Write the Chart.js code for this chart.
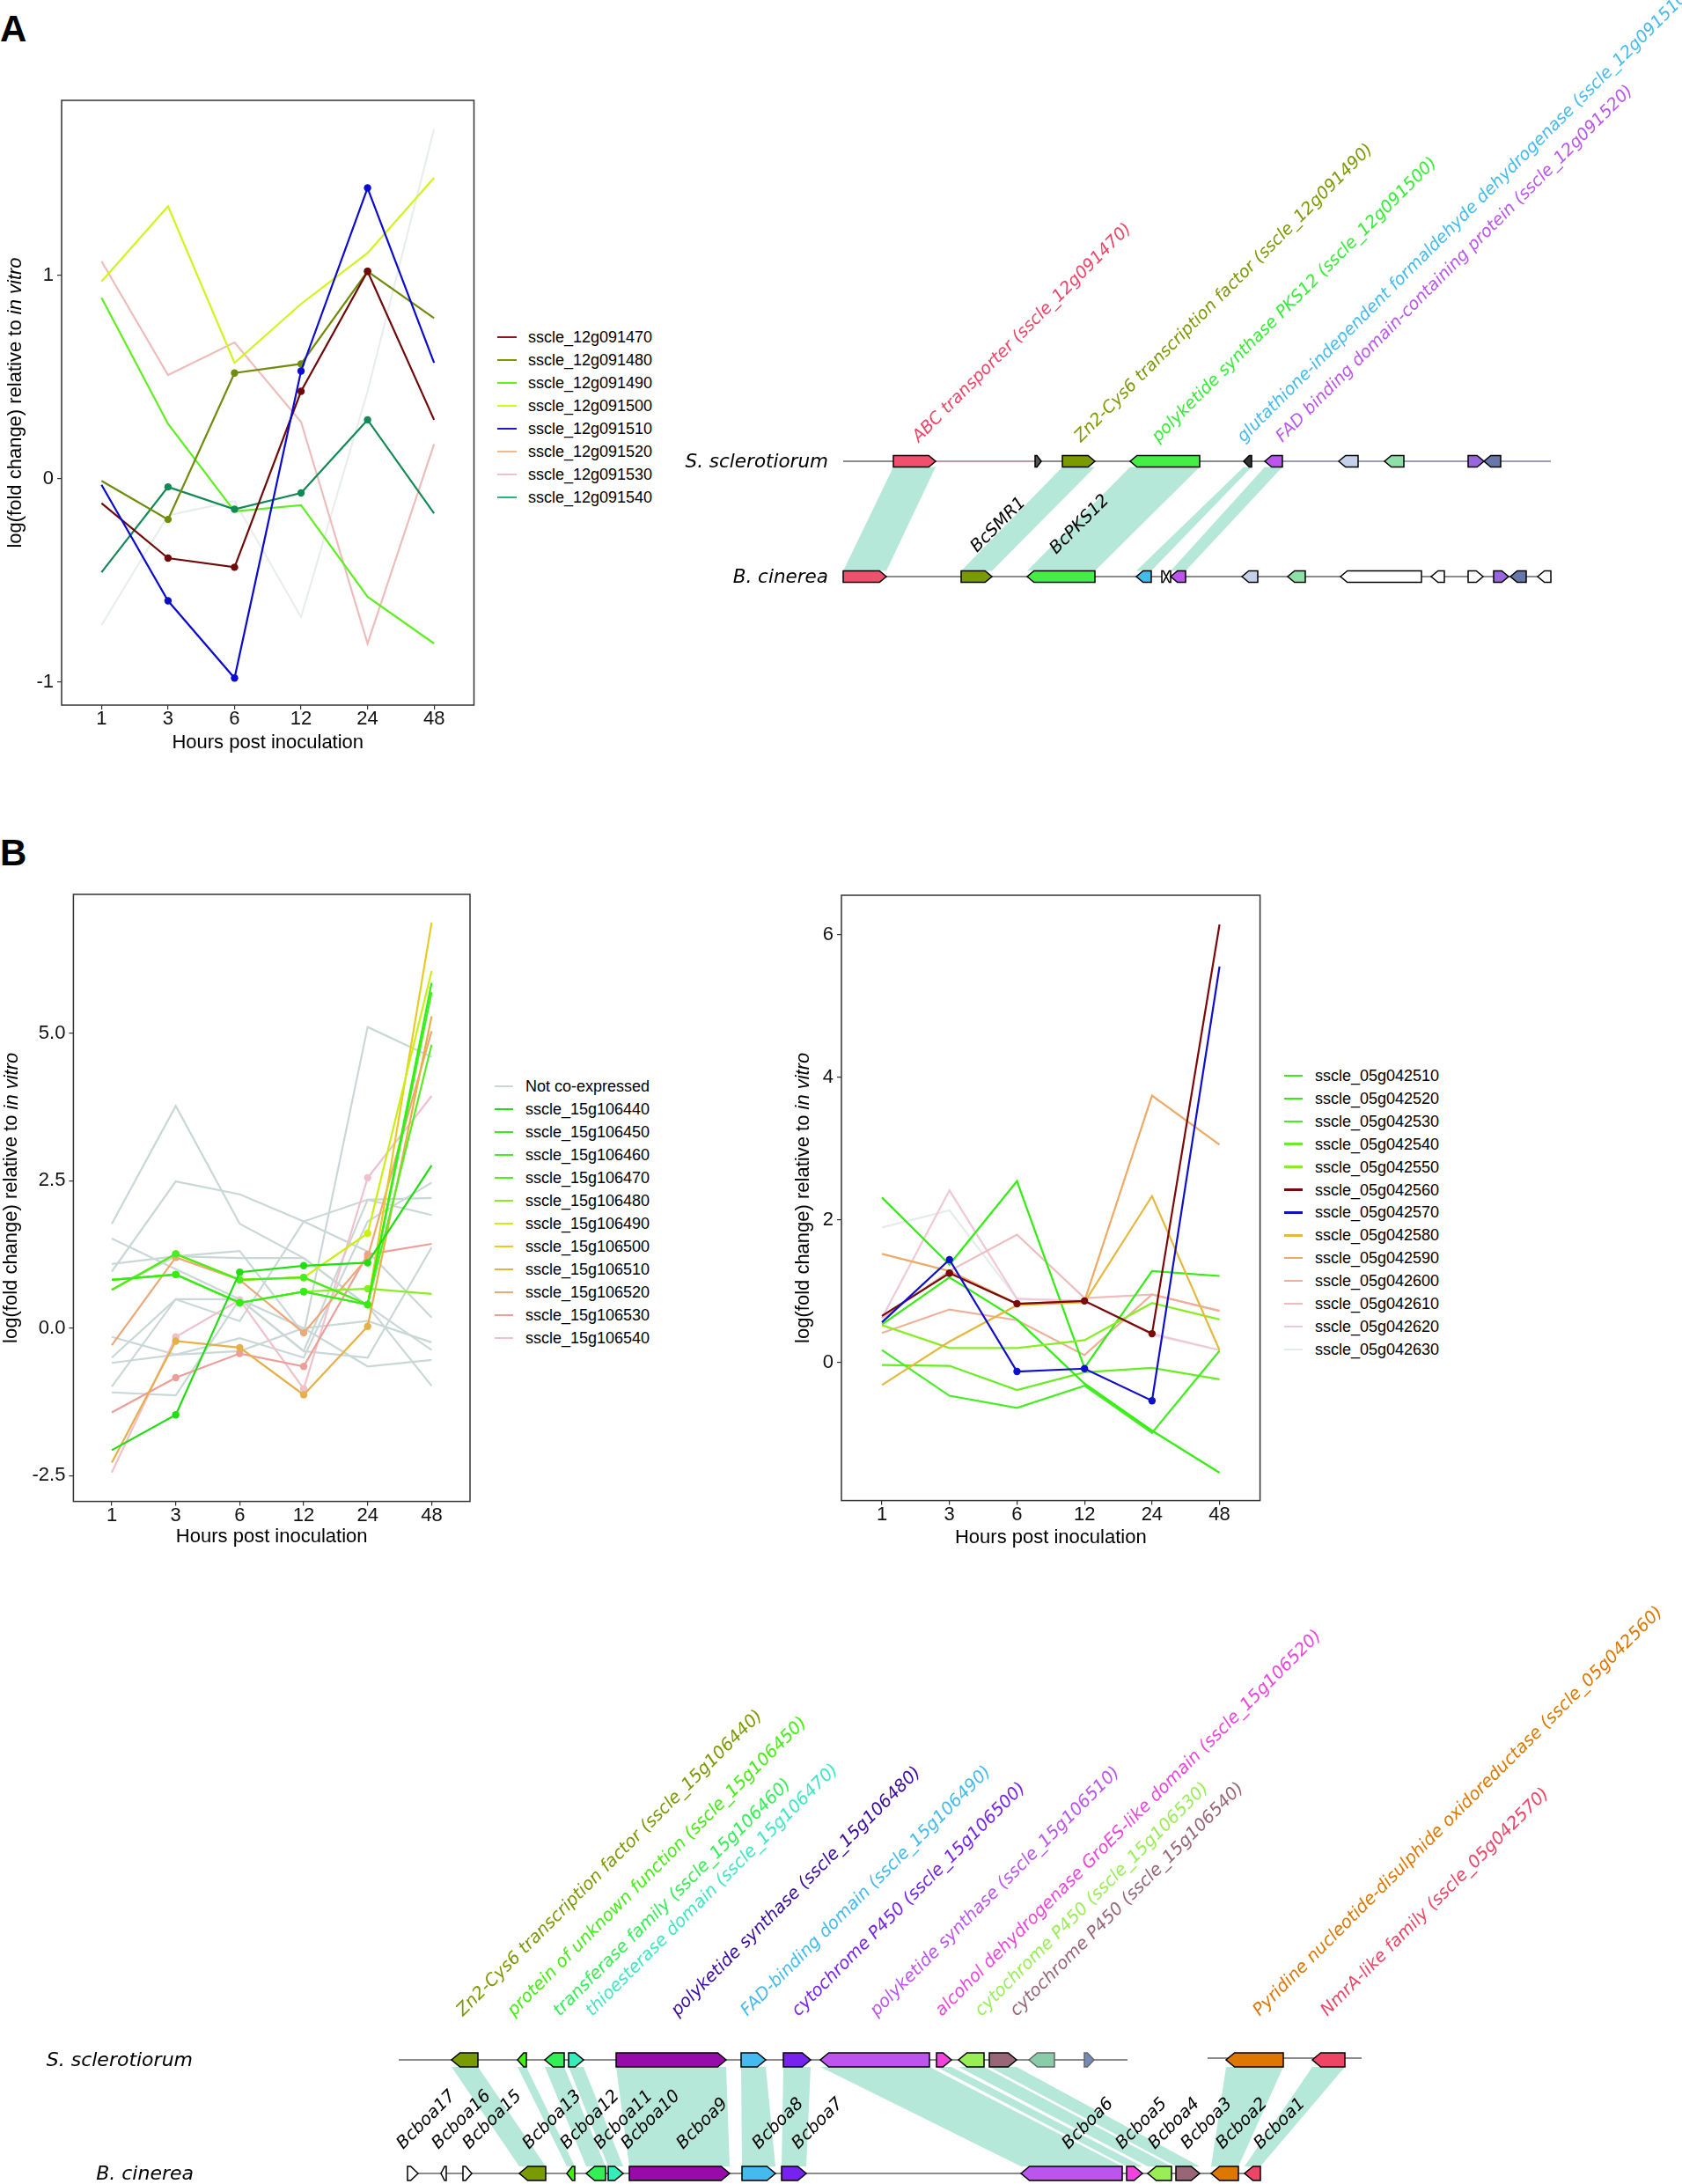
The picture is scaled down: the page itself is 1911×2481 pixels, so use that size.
<!DOCTYPE html>
<html><head><meta charset="utf-8">
<script src="https://cdn.jsdelivr.net/npm/chart.js@4.4.0/dist/chart.umd.min.js"></script>
<style>
html,body{margin:0;padding:0;background:#fff;}
body{width:1911px;height:2481px;position:relative;overflow:hidden;font-family:'Liberation Sans',Arial,sans-serif;}
.box{position:absolute;}
.box canvas{display:block;}
.panel{position:absolute;font-weight:bold;font-size:42px;line-height:42px;color:#000;}
</style></head><body>
<div class="panel" style="left:0px;top:12px;">A</div>
<div class="panel" style="left:0px;top:948px;">B</div>
<div class="box" id="boxA" style="left:0px;top:90px;width:560px;height:790px;"><canvas id="cA"></canvas></div>
<div class="box" id="boxB1" style="left:0px;top:990px;width:560px;height:790px;"><canvas id="cB1"></canvas></div>
<div class="box" id="boxB2" style="left:880px;top:990px;width:570px;height:790px;"><canvas id="cB2"></canvas></div>
<div class="box" id="boxGA" style="left:760px;top:0px;width:1151px;height:690px;"><canvas id="cGA"></canvas></div>
<div class="box" id="boxGB" style="left:0px;top:1790px;width:1911px;height:691px;"><canvas id="cGB"></canvas></div>
<div id="legends"></div>
<script>
// ---------------- DATA ----------------
const hours = ['1', '3', '6', '12', '24', '48'];

// Panel A : cluster sscle_12g0914xx
const namesA = ['sscle_12g091470','sscle_12g091480','sscle_12g091490','sscle_12g091500','sscle_12g091510','sscle_12g091520','sscle_12g091530','sscle_12g091540'];
const a470 = [-0.12, -0.39, -0.435, 0.43, 1.02, 0.29];
const a480 = [-0.01, -0.20, 0.52, 0.565, 1.02, 0.79];
const a490 = [0.89, 0.27, -0.16, -0.13, -0.58, -0.81];
const a500 = [0.97, 1.34, 0.57, 0.86, 1.11, 1.48];
const a510 = [-0.03, -0.60, -0.98, 0.53, 1.43, 0.57];
const a520 = [-0.72, -0.18, -0.11, -0.68, 0.43, 1.72];
const a530 = [1.07, 0.51, 0.67, 0.28, -0.81, 0.17];
const a540 = [-0.46, -0.04, -0.15, -0.07, 0.29, -0.17];
const yTicksA = [-1, 0, 1];

// Panel B left : cluster sscle_15g1064xx-1065xx
const namesB1 = ['sscle_15g106440','sscle_15g106450','sscle_15g106460','sscle_15g106470','sscle_15g106480','sscle_15g106490','sscle_15g106500','sscle_15g106510','sscle_15g106520','sscle_15g106530','sscle_15g106540'];
const b440 = [-2.07, -1.47, 0.95, 1.06, 1.11, 2.76];
const b450 = [0.82, 0.91, 0.43, 0.62, 0.40, 5.86];
const b460 = [0.65, 1.26, 0.82, 0.86, 0.40, 5.70];
const b470 = [0.82, 0.91, 0.43, 0.62, 0.40, 4.81];
const b480 = [0.82, 0.91, 0.43, 0.62, 0.67, 0.58];
const b490 = [0.65, 1.26, 0.82, 0.86, 1.61, 6.06];
const b500 = [0.65, 1.26, 0.82, 0.86, 0.40, 6.88];
const b510 = [-2.28, -0.22, -0.33, -1.13, 0.03, 5.29];
const b520 = [-0.29, 1.20, 0.82, -0.08, 1.20, 5.04];
const b530 = [-1.43, -0.84, -0.43, -0.65, 1.25, 1.43];
const b540 = [-2.45, -0.15, 0.48, -1.03, 2.55, 3.94];
// Not co-expressed neighbours
const nc1 = [1.77, 3.77, 1.77, 1.19, 0.38, -0.98];
const nc2 = [0.96, 2.49, 2.27, 1.81, 1.30, 0.18];
const nc3 = [1.52, 1.00, 0.49, -0.39, 2.18, 2.21];
const nc4 = [1.09, 1.22, 1.31, -0.10, 5.11, 4.60];
const nc5 = [0.65, 1.22, 1.19, 1.19, 0.38, -0.37];
const nc6 = [-0.15, -0.45, -0.17, -0.50, 1.81, 2.47];
const nc7 = [-0.50, 0.49, 0.49, 0.00, 0.12, -0.24];
const nc8 = [-0.59, -0.45, -0.39, 0.00, -0.65, -0.54];
const nc9 = [-0.99, 0.49, 0.12, 1.81, 2.18, 1.92];
const nc10 = [-1.09, -1.14, 0.49, -0.39, -0.50, 1.37];
const yTicksB1 = [-2.5, 0, 2.5, 5];

// Panel B right : cluster sscle_05g0425xx-0426xx
const namesB2 = ['sscle_05g042510','sscle_05g042520','sscle_05g042530','sscle_05g042540','sscle_05g042550','sscle_05g042560','sscle_05g042570','sscle_05g042580','sscle_05g042590','sscle_05g042600','sscle_05g042610','sscle_05g042620','sscle_05g042630'];
const c510 = [2.31, 1.37, 2.54, -0.08, 1.28, 1.21];
const c520 = [0.53, 1.19, 0.60, -0.30, -0.96, -1.55];
const c530 = [0.17, -0.47, -0.64, -0.33, -0.99, 0.16];
const c540 = [-0.04, -0.05, -0.39, -0.14, -0.08, -0.24];
const c550 = [0.52, 0.20, 0.20, 0.31, 0.83, 0.60];
const c560 = [0.65, 1.25, 0.82, 0.86, 0.40, 6.14];
const c570 = [0.56, 1.44, -0.13, -0.09, -0.54, 5.55];
const c580 = [-0.32, 0.29, 0.80, 0.84, 2.33, 0.17];
const c590 = [1.52, 1.28, 0.82, 0.86, 3.74, 3.05];
const c600 = [0.41, 0.74, 0.59, 0.10, 0.95, 0.72];
const c610 = [0.62, 1.28, 1.79, 0.90, 0.95, 0.72];
const c620 = [0.62, 2.41, 0.89, 0.86, 0.40, 0.17];
const c630 = [1.89, 2.13, 0.89, 0.86, 0.38, 0.17];
const yTicksB2 = [0, 2, 4, 6];

// Gene cluster, panel A (positions along locus)
const sclA_start = [57, 218, 249, 326, 455, 479, 563, 615, 710, 728];
const sclA_end   = [105, 225, 286, 405, 464, 499, 585, 637, 728, 747];
const sclA_strand = [1, 1, 1, -1, -1, -1, -1, -1, 1, -1];
const cinA_start = [0, 134, 209, 333, 362, 367, 372, 453, 505, 565, 668, 710, 739, 758, 789];
const cinA_end   = [49, 169, 286, 350, 367, 372, 389, 471, 525, 657, 683, 727, 756, 776, 804];
const cinA_strand = [1, 1, -1, -1, 1, -1, -1, -1, -1, -1, -1, 1, 1, -1, -1];
const linksA = [[0, 0], [2, 1], [3, 2], [4, 3], [5, 6]];
const labelTextA = ['ABC transporter (sscle_12g091470)', 'Zn2-Cys6 transcription factor (sscle_12g091490)', 'polyketide synthase PKS12 (sscle_12g091500)', 'glutathione-independent formaldehyde dehydrogenase (sscle_12g091510)', 'FAD binding domain-containing protein (sscle_12g091520)'];
const bcNamesA = ['BcSMR1', 'BcPKS12'];

// Gene cluster, panel B
const sclB_start = [60, 135, 166, 193, 247, 389, 437, 479, 611, 636, 671, 716, 779, 940, 1038];
const sclB_end   = [90, 145, 188, 210, 372, 417, 468, 603, 628, 665, 702, 745, 790, 1005, 1075];
const sclB_strand = [-1, -1, -1, 1, 1, 1, 1, -1, 1, -1, 1, -1, 1, -1, -1];
const cinB_start = [10, 48, 73, 137, 191, 213, 238, 262, 390, 435, 707, 827, 851, 883, 923, 961];
const cinB_end   = [22, 54, 83, 167, 200, 235, 255, 376, 428, 463, 822, 845, 878, 910, 954, 979];
const cinB_strand = [1, -1, 1, -1, -1, -1, 1, 1, 1, 1, -1, 1, -1, 1, -1, -1];
const linksB = [[0,3],[1,4],[2,5],[3,6],[4,7],[5,8],[6,9],[7,10],[8,11],[9,12],[10,13],[13,14],[14,15]];
const labelTextB = ['Zn2-Cys6 transcription factor (sscle_15g106440)', 'protein of unknown function (sscle_15g106450)', 'transferase family (sscle_15g106460)', 'thioesterase domain (sscle_15g106470)', 'polyketide synthase (sscle_15g106480)', 'FAD-binding domain (sscle_15g106490)', 'cytochrome P450 (sscle_15g106500)', 'polyketide synthase (sscle_15g106510)', 'alcohol dehydrogenase GroES-like domain (sscle_15g106520)', 'cytochrome P450 (sscle_15g106530)', 'cytochrome P450 (sscle_15g106540)', 'Pyridine nucleotide-disulphide oxidoreductase (sscle_05g042560)', 'NmrA-like family (sscle_05g042570)'];
const bcNamesB = ['Bcboa17','Bcboa16','Bcboa15','Bcboa13','Bcboa12','Bcboa11','Bcboa10','Bcboa9','Bcboa8','Bcboa7','Bcboa6','Bcboa5','Bcboa4','Bcboa3','Bcboa2','Bcboa1'];

// ---------------- STYLES / LAYOUT ----------------
const seriesA = [a470, a480, a490, a500, a510, a520, a530, a540];
const lineColA = ['#6e0a0a', '#6f8c0a', '#5ef01e', '#d0f51a', '#0a0ad0', '#e9eeec', '#efbcbc', '#138a55'];
const keyColA  = ['#8b1a1a', '#7a9a01', '#66ee22', '#ccff11', '#1a1acc', '#f5b88a', '#f2c2c8', '#22bb77'];
const markA = [1, 1, 0, 0, 1, 0, 0, 1];
const zA = [1, 2, 5, 4, 0, 7, 6, 3];

const seriesB1 = [b440, b450, b460, b470, b480, b490, b500, b510, b520, b530, b540];
const colB1 = ['#22dd11', '#33ee11', '#44ee22', '#55ee22', '#88ee22', '#ccee11', '#e6cc22', '#e6b048', '#eea878', '#ee9e98', '#f0c0cc'];
const ncSeries = [nc1, nc2, nc3, nc4, nc5, nc6, nc7, nc8, nc9, nc10];
const ncColor = '#c9d8d6';

const seriesB2 = [c510, c520, c530, c540, c550, c560, c570, c580, c590, c600, c610, c620, c630];
const colB2 = ['#33ee11', '#33ee11', '#44ee22', '#66ee22', '#88ee22', '#7a0a0a', '#1010cc', '#e6b840', '#eeaa66', '#eeb098', '#eebcbc', '#f0c8d8', '#e4ecec'];
const markB2 = [0, 0, 0, 0, 0, 1, 1, 0, 0, 0, 0, 0, 0];
const zB2 = [5, 6, 7, 8, 4, 1, 0, 3, 2, 9, 10, 11, 12];

const FONT = "'Liberation Sans', Arial, sans-serif";
const GFONT = "'DejaVu Sans', sans-serif";
Chart.defaults.font.family = FONT;

// ---------------- LINE CHARTS ----------------
const framePlugin = {
  id: 'frame',
  afterDraw(chart, args, o) {
    const ctx = chart.ctx, a = chart.chartArea;
    ctx.save();
    ctx.strokeStyle = '#333'; ctx.lineWidth = 1.5;
    ctx.strokeRect(a.left, a.top, a.right - a.left, a.bottom - a.top);
    ctx.fillStyle = '#000';
    ctx.font = '22px ' + FONT; ctx.textAlign = 'center'; ctx.textBaseline = 'middle';
    ctx.fillText('Hours post inoculation', (a.left + a.right) / 2, a.bottom + o.xOff);
    ctx.translate(o.yX, (a.top + a.bottom) / 2);
    ctx.rotate(-Math.PI / 2);
    const p1 = 'log(fold change) relative to ', p2 = 'in vitro';
    ctx.font = '22px ' + FONT; const w1 = ctx.measureText(p1).width;
    ctx.font = 'italic 22px ' + FONT; const w2 = ctx.measureText(p2).width;
    ctx.textAlign = 'left';
    ctx.font = '22px ' + FONT; ctx.fillText(p1, -(w1 + w2) / 2, 0);
    ctx.font = 'italic 22px ' + FONT; ctx.fillText(p2, -(w1 + w2) / 2 + w1, 0);
    ctx.restore();
  }
};

function mkSet(vals, color, marked, z, label) {
  return {
    label: label,
    data: vals.map((v, j) => ({ x: j, y: v })),
    borderColor: color, backgroundColor: color, borderWidth: 2.2,
    pointRadius: vals.map((v, j) => (marked && j > 0 && j < vals.length - 1) ? 4.2 : 0),
    pointBorderWidth: 0, pointHoverRadius: 0, tension: 0, order: z
  };
}

function lineChart(id, datasets, L) {
  new Chart(document.getElementById(id), {
    type: 'line',
    data: { datasets: datasets },
    options: {
      animation: false, responsive: true, maintainAspectRatio: false,
      layout: { padding: { top: L.top, right: L.right, left: 0, bottom: 0 } },
      plugins: { legend: { display: false }, tooltip: { enabled: false }, frame: { xOff: L.xOff, yX: L.yX } },
      scales: {
        x: {
          type: 'linear', min: -0.6, max: 5.6,
          afterBuildTicks: s => { s.ticks = hours.map((h, i) => ({ value: i })); },
          afterFit: s => { s.height = L.xh; },
          ticks: { callback: v => hours[v], font: { size: 22 }, color: '#111', padding: -2, maxRotation: 0, autoSkip: false },
          grid: { drawOnChartArea: false, drawTicks: true, tickLength: 5, color: '#333', lineWidth: 1.2 },
          border: { display: false }
        },
        y: {
          type: 'linear', min: L.ymin, max: L.ymax,
          afterBuildTicks: s => { s.ticks = L.yt.map(v => ({ value: v })); },
          afterFit: s => { s.width = L.yw; },
          ticks: { callback: L.fmt, font: { size: 22 }, color: '#111', padding: 4 },
          grid: { drawOnChartArea: false, drawTicks: true, tickLength: 5, color: '#333', lineWidth: 1.2 },
          border: { display: false }
        }
      }
    },
    plugins: [framePlugin]
  });
}

lineChart('cA', seriesA.map((s, i) => mkSet(s, lineColA[i], markA[i], zA[i], namesA[i])),
  { top: 24, right: 21.5, xh: 79, yw: 70, ymin: -1.113, ymax: 1.861, yt: yTicksA, fmt: v => String(v), xOff: 42.5, yX: 18 });

const dsB1 = seriesB1.map((s, i) => mkSet(s, colB1[i], 1, i, namesB1[i]))
  .concat(ncSeries.map((s, i) => mkSet(s, ncColor, 0, 20 + i, 'Not co-expressed')));
lineChart('cB1', dsB1,
  { top: 26, right: 26, xh: 74.4, yw: 83.4, ymin: -2.94, ymax: 7.36, yt: yTicksB1, fmt: v => v.toFixed(1), xOff: 40.4, yX: 13.4 });

lineChart('cB2', seriesB2.map((s, i) => mkSet(s, colB2[i], markB2[i], zB2[i], namesB2[i])),
  { top: 27, right: 18.4, xh: 75.4, yw: 76, ymin: -1.94, ymax: 6.55, yt: yTicksB2, fmt: v => String(v), xOff: 42, yX: 32.5 });

// ---------------- LEGENDS (HTML) ----------------
function legend(names, colors, L) {
  const host = document.getElementById('legends');
  names.forEach((n, i) => {
    const y = L.y0 + L.dy * i;
    const k = document.createElement('div');
    k.style.cssText = `position:absolute;left:${L.kx}px;top:${y - 1.25}px;width:${L.kw}px;height:2.5px;background:${colors[i]};`;
    const t = document.createElement('div');
    t.style.cssText = `position:absolute;left:${L.tx}px;top:${y - 11}px;font-size:18px;line-height:22px;white-space:nowrap;color:#000;font-family:${FONT};`;
    t.textContent = n;
    host.appendChild(k); host.appendChild(t);
  });
}
legend(namesA, keyColA, { y0: 383, dy: 26, kx: 565, kw: 22, tx: 600 });
legend(['Not co-expressed'].concat(namesB1), ['#c9d8d6'].concat(colB1), { y0: 1234, dy: 26, kx: 562, kw: 21, tx: 597 });
legend(namesB2, colB2, { y0: 1222, dy: 25.9, kx: 1459, kw: 21, tx: 1494 });

// ---------------- GENE CLUSTER DIAGRAMS ----------------
const sclA_col = ['#f0506e', '#555555', '#7a9a01', '#44ee44', '#333333', '#bb55ee', '#c5d0ea', '#8fe0a8', '#9966dd', '#6677aa'];
const cinA_col = ['#f0506e', '#7a9a01', '#44ee44', '#44bbee', '#ffffff', '#ffffff', '#bb55ee', '#c5d0ea', '#8fe0a8', '#ffffff', '#ffffff', '#ffffff', '#9966dd', '#6677aa', '#ffffff'];
const labelColA = ['#ee4466', '#7a9a01', '#33ee33', '#44bbee', '#bb55ee'];
const sclB_col = ['#7a9a01', '#44ee11', '#33ee55', '#33eebb', '#990aaa', '#44bbee', '#7722ee', '#bb55ee', '#ee44dd', '#99ee55', '#996677', '#88ccaa', '#7788bb', '#dd7700', '#ee4466'];
const cinB_col = ['#ffffff', '#ffffff', '#ffffff', '#7a9a01', '#44ee11', '#33ee55', '#33eebb', '#990aaa', '#44bbee', '#7722ee', '#bb55ee', '#ee44dd', '#99ee55', '#996677', '#dd7700', '#ee4466'];
const labelColB = ['#7a9a01', '#44ee11', '#33ee55', '#3de8c0', '#3a0aa0', '#44bbee', '#7722ee', '#bb55ee', '#ee44dd', '#99ee55', '#996677', '#dd7700', '#ee4466'];
const LINK = 'rgba(90,205,168,0.45)';

function gene(ctx, x1, x2, yc, h, strand, fill, stroke) {
  const len = x2 - x1, tip = Math.min(h * 0.6, len * 0.7);
  ctx.beginPath();
  if (strand > 0) {
    ctx.moveTo(x1, yc - h / 2); ctx.lineTo(x2 - tip, yc - h / 2); ctx.lineTo(x2, yc);
    ctx.lineTo(x2 - tip, yc + h / 2); ctx.lineTo(x1, yc + h / 2);
  } else {
    ctx.moveTo(x2, yc - h / 2); ctx.lineTo(x1 + tip, yc - h / 2); ctx.lineTo(x1, yc);
    ctx.lineTo(x1 + tip, yc + h / 2); ctx.lineTo(x2, yc + h / 2);
  }
  ctx.closePath();
  ctx.fillStyle = fill; ctx.fill();
  ctx.strokeStyle = stroke; ctx.lineWidth = 1.5; ctx.lineJoin = 'miter'; ctx.stroke();
}
function rotText(ctx, t, x, y, color, font) {
  ctx.save(); ctx.translate(x, y); ctx.rotate(-Math.PI / 4);
  ctx.font = font; ctx.fillStyle = color; ctx.textAlign = 'left'; ctx.textBaseline = 'alphabetic';
  ctx.fillText(t, 0, 0); ctx.restore();
}
function line(ctx, x1, x2, y, color, w) {
  ctx.beginPath(); ctx.moveTo(x1, y); ctx.lineTo(x2, y); ctx.strokeStyle = color; ctx.lineWidth = w; ctx.stroke();
}

function diagram(id, G) {
  new Chart(document.getElementById(id), {
    type: 'scatter',
    data: { datasets: [] },
    options: {
      animation: false, responsive: true, maintainAspectRatio: false,
      layout: { padding: 0 },
      plugins: { legend: { display: false }, tooltip: { enabled: false } },
      scales: {
        x: { type: 'linear', display: false, min: G.xmin, max: G.xmax },
        y: { type: 'linear', display: false, min: G.ymin, max: G.ymax, reverse: true }
      }
    },
    plugins: [{
      id: 'genes',
      afterDraw(chart) {
        const ctx = chart.ctx, X = v => chart.scales.x.getPixelForValue(v), Y = v => chart.scales.y.getPixelForValue(v);
        const yS = Y(G.rowS), yC = Y(G.rowC), h = G.h;
        ctx.save();
        G.bbS.forEach(b => line(ctx, X(b[0]), X(b[1]), Y(b[2]), '#8c8c8c', 2));
        G.bbC.forEach(b => line(ctx, X(b[0]), X(b[1]), Y(b[2]), '#8c8c8c', 2));
        (G.bbTint || []).forEach(b => line(ctx, X(b[0]), X(b[1]), yS, b[2], 1.2));
        G.links.forEach(([i, j]) => {
          ctx.beginPath();
          ctx.moveTo(X(G.sS[i]), yS + h / 2); ctx.lineTo(X(G.sE[i]), yS + h / 2);
          ctx.lineTo(X(G.cE[j]), yC - h / 2); ctx.lineTo(X(G.cS[j]), yC - h / 2);
          ctx.closePath(); ctx.fillStyle = LINK; ctx.fill();
        });
        G.sS.forEach((s, i) => gene(ctx, X(s), X(G.sE[i]), yS, h, G.sD[i], G.sC[i], (G.grayEdge || []).includes(i) ? '#666' : '#000'));
        G.cS.forEach((s, i) => gene(ctx, X(s), X(G.cE[i]), yC, h, G.cD[i], G.cC[i], '#000'));
        ctx.font = 'italic ' + G.spFont + 'px ' + GFONT; ctx.fillStyle = '#000'; ctx.textAlign = 'right'; ctx.textBaseline = 'middle';
        ctx.fillText('S. sclerotiorum', X(G.spX), yS + 1);
        ctx.fillText('B. cinerea', X(G.spX + G.spDx), yC + 1);
        G.lt.forEach((t, k) => rotText(ctx, t, X(G.lx[k]), Y(G.ly), G.lc[k], 'italic ' + G.lf + 'px ' + GFONT));
        G.bt.forEach((t, k) => rotText(ctx, t, X(G.bx[k]), Y(G.by[k] !== undefined ? G.by[k] : G.by[0]), '#000', 'italic 19.5px ' + GFONT));
        ctx.restore();
      }
    }]
  });
}

diagram('cGA', {
  xmin: -198, xmax: 953, ymin: 0, ymax: 690, rowS: 524, rowC: 655, h: 13,
  sS: sclA_start, sE: sclA_end, sD: sclA_strand, sC: sclA_col,
  cS: cinA_start, cE: cinA_end, cD: cinA_strand, cC: cinA_col,
  bbS: [[0, 804, 524]], bbC: [[0, 804, 655]],
  bbTint: [[105, 218, '#f2a6ac'], [499, 804, '#a9b0e6']],
  links: linksA, spFont: 21.5, spX: -17, spDx: 0,
  lt: labelTextA, lx: [86, 270, 358, 455, 499], ly: 503, lc: labelColA, lf: 19.2,
  bt: bcNamesA, bx: [152, 242], by: [628, 630]
});

diagram('cGB', {
  xmin: -453, xmax: 1458, ymin: 1790, ymax: 2481, rowS: 2340, rowC: 2469, h: 16,
  sS: sclB_start, sE: sclB_end, sD: sclB_strand, sC: sclB_col, grayEdge: [11, 12],
  cS: cinB_start, cE: cinB_end, cD: cinB_strand, cC: cinB_col,
  bbS: [[0, 828, 2340], [919, 1094, 2338]], bbC: [[10, 979, 2469]],
  links: linksB, spFont: 22, spX: -234, spDx: 1,
  lt: labelTextB, lx: [73, 131, 183, 220, 317, 396, 454, 543, 617, 662, 702, 978, 1055], ly: 2291, lc: labelColB, lf: 19.7,
  bt: bcNamesB, bx: [5, 45, 80, 148, 191, 229, 260, 323, 409, 454, 761, 822, 859, 896, 936, 979], by: [2442]
});
</script>
</body></html>
